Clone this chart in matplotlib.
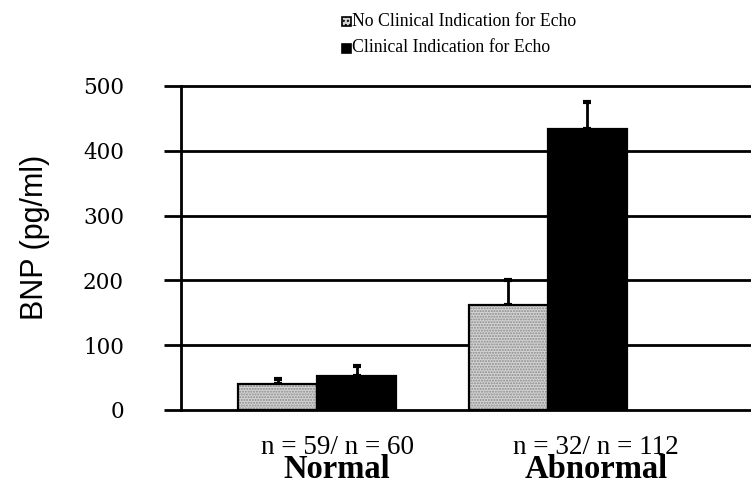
import matplotlib
matplotlib.use("Agg")
import matplotlib.pyplot as plt
from matplotlib.patches import Rectangle
import numpy as np

# data
groups = ["Normal", "Abnormal"]
n_labels = ["n = 59/ n = 60", "n = 32/ n = 112"]
series_names = ["No Clinical Indication for Echo", "Clinical Indication for Echo"]
no_indication = [40, 162]
no_indication_err = [8, 38]
indication = [52, 433]
indication_err = [16, 43]
y_ticks = [0, 100, 200, 300, 400, 500]

fig = plt.figure(figsize=(7.51, 4.84), dpi=100)
ax = fig.add_axes([181 / 751, 1 - 410 / 484, 1 - 181 / 751, (410 - 86) / 484])

x = np.arange(len(groups))
w = 0.342
label_shift = [0.087, 0.208]  # category labels sit a little right of the bars

# gray stippled bars
ax.bar(x - w / 2, no_indication, w, color="#d4d4d4", hatch="......",
       edgecolor="#8a8a8a", linewidth=0, zorder=3)
ax.bar(x - w / 2, no_indication, w, fill=False, edgecolor="black",
       linewidth=1.6, zorder=4)
ax.bar(x + w / 2, indication, w, color="black", edgecolor="black",
       linewidth=1.6, zorder=3)

ax.errorbar(x - w / 2, no_indication, yerr=[np.zeros(len(x)), no_indication_err],
            fmt="none", ecolor="black", elinewidth=2, capsize=3, capthick=3, zorder=2)
ax.errorbar(x + w / 2, indication, yerr=[np.zeros(len(x)), indication_err],
            fmt="none", ecolor="black", elinewidth=2, capsize=3, capthick=3, zorder=2)

for v in y_ticks[1:]:
    ax.axhline(v, color="black", linewidth=2, clip_on=False, zorder=1)

ax.set_xlim(-0.589, 1.879)
ax.set_ylim(0, 500)
ax.set_yticks(y_ticks)
ax.set_yticklabels([str(v) for v in y_ticks], family="DejaVu Serif", fontsize=15.5)
ax.tick_params(axis="y", length=12, width=2, pad=29)
ax.set_xticks([])
for s in ["top", "right"]:
    ax.spines[s].set_visible(False)
ax.spines["left"].set_linewidth(2)
ax.spines["bottom"].set_linewidth(2)

trans = ax.get_xaxis_transform()
for xi, sh, nl, g in zip(x, label_shift, n_labels, groups):
    ax.text(xi + sh, -0.136, nl, transform=trans, ha="center", va="baseline",
            family="Liberation Serif", fontsize=19.5)
    ax.text(xi + sh, -0.210, g, transform=trans, ha="center", va="baseline",
            family="Liberation Serif", fontsize=23.5, fontweight="bold")

fig.text(35 / 751, 0.51, "BNP (pg/ml)", rotation=90, ha="center", va="center",
         family="Liberation Sans", fontsize=22)

# legend built by hand at the top
leg_y = [1 - 21 / 484, 1 - 48 / 484]
fig.patches.append(Rectangle((342 / 751, leg_y[0] - 4.5 / 484), 9 / 751, 9 / 484,
                             transform=fig.transFigure, facecolor="#d4d4d4",
                             hatch="....", edgecolor="black", linewidth=1.2))
fig.patches.append(Rectangle((342 / 751, leg_y[1] - 4.5 / 484), 9 / 751, 9 / 484,
                             transform=fig.transFigure, facecolor="black",
                             edgecolor="black", linewidth=1.2))
for yy, name in zip(leg_y, series_names):
    fig.text(352 / 751, yy, name, ha="left", va="center",
             family="Liberation Serif", fontsize=12.8)

fig.savefig("out.png", dpi=100)
